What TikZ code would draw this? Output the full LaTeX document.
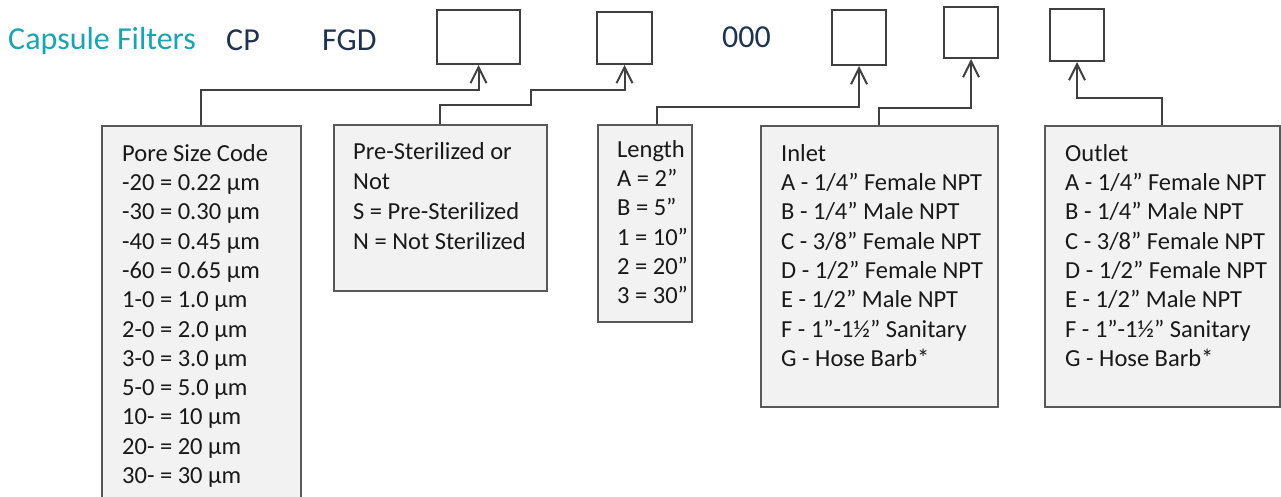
\documentclass[tikz,border=0pt]{standalone}
\usepackage{fontspec}
\setmainfont{Carlito}
\usetikzlibrary{arrows.meta}
\definecolor{headteal}{RGB}{26,163,178}
\definecolor{headnavy}{RGB}{31,50,79}
\definecolor{boxfill}{RGB}{242,242,242}
\definecolor{boxline}{RGB}{89,89,89}
\definecolor{wireline}{RGB}{64,64,64}
\tikzstyle{slot} = [rectangle, draw=wireline, line width=2pt, fill=white, inner sep=0pt]
\tikzstyle{legend} = [rectangle, anchor=north west, draw=boxline, line width=1.8pt, fill=boxfill, inner sep=0pt]
\tikzstyle{legendtext} = [anchor=north west, align=left, inner sep=0pt, text=black!90, font=\fontsize{24.5}{29.3}\selectfont]
\tikzstyle{head} = [anchor=base west, inner sep=0pt, font=\fontsize{32}{36}\selectfont]
\tikzstyle{arrow} = [line width=2pt, draw=wireline, -{Straight Barb[length=16pt,width=16pt,line width=2pt]}]

\begin{document}
\begin{tikzpicture}[x=1pt, y=-1pt]
          \useasboundingbox (0,0) rectangle (1281,496);
          %% Part number
          \node (title) [head, text=headteal] at (8,49)   {Capsule Filters}; %
          \node (cp)    [head, text=headnavy] at (226,50) {CP}; %
          \node (fgd)   [head, text=headnavy] at (322,50) {FGD}; %
          \node (zeros) [head, text=headnavy] at (722,47) {000}; %
          \node (poresz)   [slot, minimum width=83pt, minimum height=54pt] at (478.5,37) {}; %
          \node (sterile)  [slot, minimum width=55pt, minimum height=52pt] at (624.5,38) {}; %
          \node (lengthsz) [slot, minimum width=54pt, minimum height=55pt] at (859,37.5) {}; %
          \node (inletsz)  [slot, minimum width=54pt, minimum height=51pt] at (971,32.5) {}; %
          \node (outletsz) [slot, minimum width=54pt, minimum height=52pt] at (1077,35) {}; %

          %% Legends
          \node (pore) [legend, minimum width=199pt, minimum height=376pt] at (101,125) {}; %
          \node (ster) [legend, minimum width=213pt, minimum height=166pt] at (333,124) {}; %
          \node (len)  [legend, minimum width=94pt,  minimum height=197pt] at (597,124) {}; %
          \node (inl)  [legend, minimum width=237pt, minimum height=281pt] at (760,125) {}; %
          \node (outl) [legend, minimum width=235pt, minimum height=281pt] at (1044,125) {}; %

          \node (poretxt) [legendtext] at (122,144) {Pore Size Code\\ -20 = 0.22 µm\\ -30 = 0.30 µm\\ -40 = 0.45 µm\\ -60 = 0.65 µm\\ 1-0 = 1.0 µm\\ 2-0 = 2.0 µm\\ 3-0 = 3.0 µm\\ 5-0 = 5.0 µm\\ 10- = 10 µm\\ 20- = 20 µm\\ 30- = 30 µm}; %
          \node (stertxt) [legendtext, font=\fontsize{24.5}{30.2}\selectfont] at (353,142) {Pre-Sterilized or\\ Not\\ S = Pre-Sterilized\\ N = Not Sterilized}; %
          \node (lentxt)  [legendtext] at (617,140) {Length\\ A = 2”\\ B = 5”\\ 1 = 10”\\ 2 = 20”\\ 3 = 30”}; %
          \node (inltxt)  [legendtext] at (781,144) {Inlet\\ A - 1/4” Female NPT\\ B - 1/4” Male NPT\\ C - 3/8” Female NPT\\ D - 1/2” Female NPT\\ E - 1/2” Male NPT\\ F - 1”-1½” Sanitary\\ G - Hose Barb*}; %
          \node (outltxt) [legendtext] at (1065,144) {Outlet\\ A - 1/4” Female NPT\\ B - 1/4” Male NPT\\ C - 3/8” Female NPT\\ D - 1/2” Female NPT\\ E - 1/2” Male NPT\\ F - 1”-1½” Sanitary\\ G - Hose Barb*}; %

          %% Connections
          \draw [arrow] (pore.north) -- ++(0,-35) -| (poresz.south); %
          \draw [arrow] (ster.north) -- ++(0,-19) -| (531,90) -| (sterile.south); %
          \draw [arrow] ([xshift=12pt]len.north) -- ++(0,-17) -| (lengthsz.south); %
          \draw [arrow] (inl.north)  -- ++(0,-17) -| (inletsz.south); %
          \draw [arrow] (outl.north) -- ++(0,-27) -| (outletsz.south); %
        \end{tikzpicture}
\end{document}
